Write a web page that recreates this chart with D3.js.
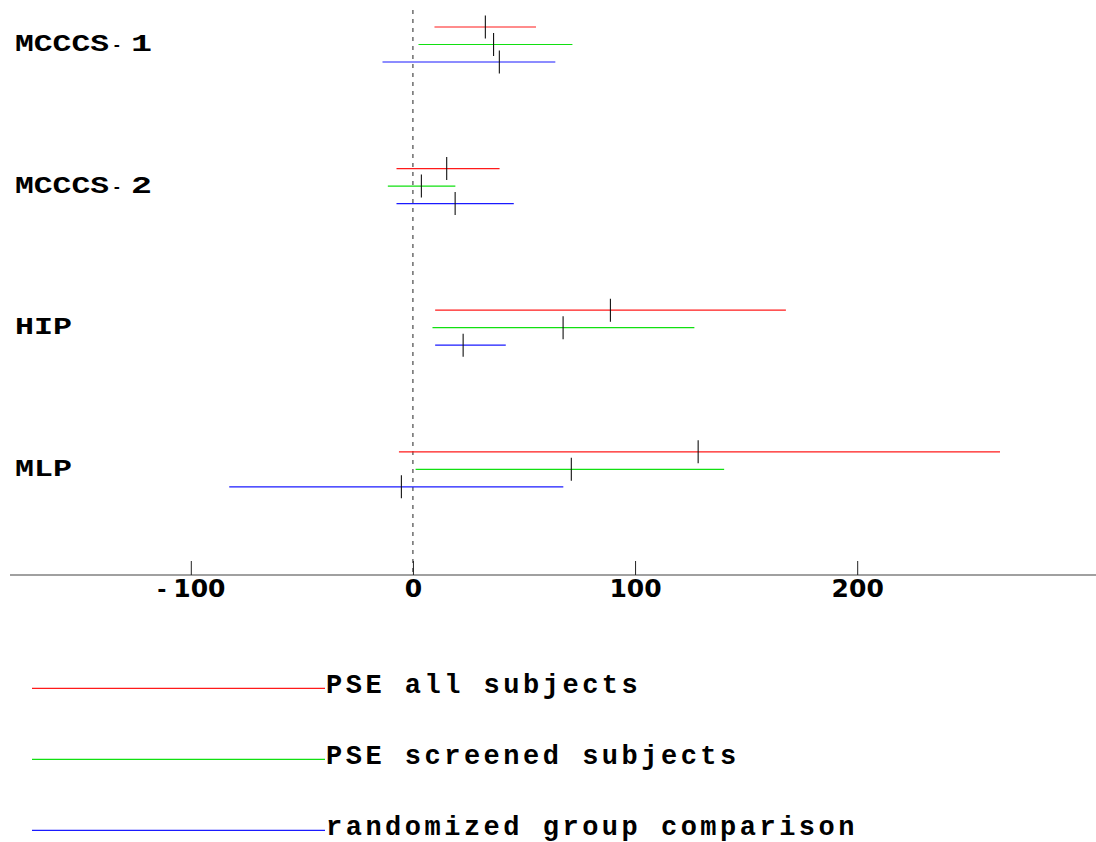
<!DOCTYPE html>
<html>
<head>
<meta charset="utf-8">
<script src="https://cdn.jsdelivr.net/npm/d3@7/dist/d3.min.js"></script>
<style>
  html, body { margin: 0; padding: 0; background: #fff; }
  svg { display: block; }
</style>
</head>
<body>
<svg id="chart" width="1096" height="842"></svg>
<script>
// ---- data ----
const groups = ["MCCCS-1", "MCCCS-2", "HIP", "MLP"];
const seriesNames = ["PSE all subjects", "PSE screened subjects", "randomized group comparison"];
const seriesColors = ["#ff1a1a", "#11e011", "#1a1aff"];
// per series, per group
const lowerAll      = [9.7, -7.4, 10.0, -6.3];
const upperAll      = [55.4, 39.0, 167.9, 264.3];
const estAll        = [32.6, 15.2, 88.9, 128.4];
const lowerScreened = [2.5, -11.3, 8.8, 1.2];
const upperScreened = [71.8, 19.1, 126.7, 140.1];
const estScreened   = [36.3, 3.8, 67.6, 71.3];
const lowerRandom   = [-13.7, -7.4, 10.0, -82.7];
const upperRandom   = [64.1, 45.4, 41.8, 67.7];
const estRandom     = [38.9, 19.0, 22.6, -5.2];
const tickValues = [-100, 0, 100, 200];

const series = [
  {name: seriesNames[0], color: seriesColors[0], lo: lowerAll, hi: upperAll, est: estAll},
  {name: seriesNames[1], color: seriesColors[1], lo: lowerScreened, hi: upperScreened, est: estScreened},
  {name: seriesNames[2], color: seriesColors[2], lo: lowerRandom, hi: upperRandom, est: estRandom}
];

// ---- scales ----
const svg = d3.select("#chart");
const x = d3.scaleLinear().domain([-100, 200]).range([190.8, 857.2]);
const yGroup = d3.scalePoint().domain(groups).range([44.5, 469.3]);
const ySub = d3.scalePoint().domain(seriesNames).range([-17.5, 17.5]);
const axisY = 575;

// zero reference dashed line
svg.append("line")
  .attr("x1", x(0)).attr("x2", x(0))
  .attr("y1", 10).attr("y2", axisY)
  .attr("stroke", "#222").attr("stroke-width", 1)
  .attr("stroke-dasharray", "4,5");

// intervals
series.forEach(s => {
  const g = svg.append("g");
  groups.forEach((grp, i) => {
    const yy = yGroup(grp) + ySub(s.name);
    g.append("line")
      .attr("x1", x(s.lo[i])).attr("x2", x(s.hi[i]))
      .attr("y1", yy).attr("y2", yy)
      .attr("stroke", s.color).attr("stroke-width", 1.2);
    g.append("line")
      .attr("x1", x(s.est[i])).attr("x2", x(s.est[i]))
      .attr("y1", yy - 11.5).attr("y2", yy + 11.5)
      .attr("stroke", "#111").attr("stroke-width", 1.1);
  });
});

// group labels
const labelFont = "'Liberation Mono', 'Courier New', monospace";
groups.forEach(grp => {
  const yy = yGroup(grp) + 6.5;
  const parts = grp.split("-");
  const t = svg.append("text")
    .attr("y", yy)
    .attr("font-family", labelFont)
    .attr("font-weight", "bold")
    .attr("font-size", 23)
    .attr("fill", "#000");
  if (parts.length === 2) {
    t.append("tspan").attr("x", 15).attr("textLength", 94).attr("lengthAdjust", "spacingAndGlyphs").text(parts[0]);
    t.append("tspan").attr("x", 112).attr("font-size", 16).attr("dy", -1).text("-");
    t.append("tspan").attr("x", 131).attr("dy", 1).attr("textLength", 21).attr("lengthAdjust", "spacingAndGlyphs").text(parts[1]);
  } else {
    t.append("tspan").attr("x", 15).attr("textLength", 57).attr("lengthAdjust", "spacingAndGlyphs").text(grp);
  }
});

// x axis
svg.append("line")
  .attr("x1", 10).attr("x2", 1096)
  .attr("y1", axisY).attr("y2", axisY)
  .attr("stroke", "#808080").attr("stroke-width", 1.6);

const axis = d3.axisBottom(x)
  .tickValues(tickValues)
  .tickSizeInner(-14)
  .tickSizeOuter(0)
  .tickPadding(4)
  .tickFormat(d => String(Math.abs(d)));
const ag = svg.append("g").attr("transform", `translate(0,${axisY})`).call(axis);
ag.select(".domain").remove();
ag.selectAll(".tick line").attr("stroke", "#222").attr("stroke-width", 1);
ag.selectAll(".tick text")
  .attr("font-family", "'DejaVu Sans', sans-serif")
  .attr("font-weight", "bold")
  .attr("font-size", 25)
  .attr("fill", "#000")
  .each(function(d) {
    if (d < 0) {
      const el = d3.select(this);
      const txt = el.text();
      el.text("");
      el.append("tspan").attr("font-size", 22).text("-");
      el.append("tspan").attr("dx", 7).text(txt);
    }
  });

// legend
const legendY0 = 688.3, legendStep = 71;
series.forEach((s, i) => {
  const yy = legendY0 + i * legendStep;
  svg.append("line")
    .attr("x1", 32).attr("x2", 325)
    .attr("y1", yy).attr("y2", yy)
    .attr("stroke", s.color).attr("stroke-width", 1.2);
  svg.append("text")
    .attr("x", 326).attr("y", yy + 4.5)
    .attr("font-family", labelFont)
    .attr("font-weight", "bold")
    .attr("font-size", 27)
    .attr("letter-spacing", 3.5)
    .attr("fill", "#000")
    .text(s.name);
});
</script>
</body>
</html>
